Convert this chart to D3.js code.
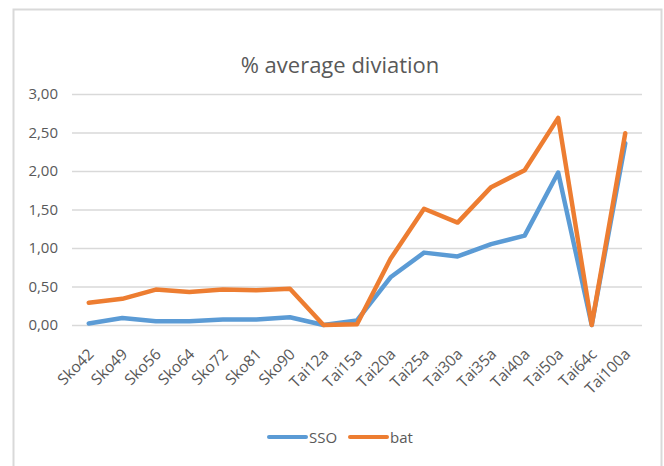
<!DOCTYPE html>
<html>
<head>
<meta charset="utf-8">
<script src="https://cdn.jsdelivr.net/npm/d3@7"></script>
<style>
  body { margin: 0; background: #fff; }
  text { font-family: "Open Sans", "Noto Sans", sans-serif; }
</style>
</head>
<body>
<div id="chart"></div>
<script>
const categories = ["Sko42", "Sko49", "Sko56", "Sko64", "Sko72", "Sko81", "Sko90", "Tai12a", "Tai15a",
  "Tai20a", "Tai25a", "Tai30a", "Tai35a", "Tai40a", "Tai50a", "Tai64c", "Tai100a"];
const sso = [0.02, 0.09, 0.05, 0.05, 0.07, 0.07, 0.10, 0.00, 0.06, 0.62, 0.94, 0.89, 1.05, 1.16, 1.98, 0.00, 2.36];
const bat = [0.29, 0.34, 0.46, 0.43, 0.46, 0.45, 0.47, 0.00, 0.01, 0.86, 1.51, 1.33, 1.79, 2.01, 2.69, 0.00, 2.49];
const yTicks = [0, 0.5, 1, 1.5, 2, 2.5, 3];
const seriesNames = ["SSO", "bat"];
const colors = ["#5b9bd5", "#ed7d31"];

const svg = d3.select("#chart").append("svg")
  .attr("width", 664)
  .attr("height", 466);

// chart frame (bottom edge is outside the picture)
svg.append("path")
  .attr("d", "M13.5,480V9.5H661.5V480")
  .attr("fill", "none")
  .attr("stroke", "#d9d9d9")
  .attr("stroke-width", 2);

svg.append("text")
  .attr("x", 340).attr("y", 73)
  .attr("text-anchor", "middle")
  .attr("font-size", 22)
  .attr("fill", "#595959")
  .text("% average diviation");

const x = d3.scaleBand().domain(categories).range([72, 642]);
const y = d3.scaleLinear().domain([0, 3]).range([325, 94]);

const yAxis = svg.append("g")
  .attr("transform", "translate(72,0)")
  .call(d3.axisLeft(y).tickValues(yTicks).tickSize(-570).tickPadding(14)
    .tickFormat(d => d3.format(".2f")(d).replace(".", ",")));
yAxis.select(".domain").remove();
yAxis.selectAll("line").attr("stroke", "#d9d9d9").attr("stroke-width", 1.3);
yAxis.selectAll("text").attr("font-size", 15).attr("fill", "#595959");

const xAxis = svg.append("g")
  .attr("transform", "translate(0,325)")
  .call(d3.axisBottom(x).tickSize(0));
xAxis.select(".domain").remove();
xAxis.selectAll("text")
  .attr("font-size", 15.5)
  .attr("fill", "#595959")
  .attr("text-anchor", "end")
  .attr("dy", 0)
  .attr("transform", "translate(4,28) rotate(-45)");

const line = d3.line()
  .x((d, i) => x(categories[i]) + x.bandwidth() / 2)
  .y(d => y(d));

[sso, bat].forEach((vals, i) => {
  svg.append("path")
    .datum(vals)
    .attr("fill", "none")
    .attr("stroke", colors[i])
    .attr("stroke-width", 4.5)
    .attr("stroke-linejoin", "round")
    .attr("stroke-linecap", "round")
    .attr("d", line);
});

// legend
const legend = svg.append("g").attr("transform", "translate(0,437)");
const legendX = [269, 350];
seriesNames.forEach((name, i) => {
  legend.append("line")
    .attr("x1", legendX[i]).attr("x2", legendX[i] + 37)
    .attr("stroke", colors[i])
    .attr("stroke-width", 4)
    .attr("stroke-linecap", "round");
  legend.append("text")
    .attr("x", legendX[i] + 40).attr("y", 5.5)
    .attr("font-size", 15)
    .attr("fill", "#595959")
    .text(name);
});
</script>
</body>
</html>
